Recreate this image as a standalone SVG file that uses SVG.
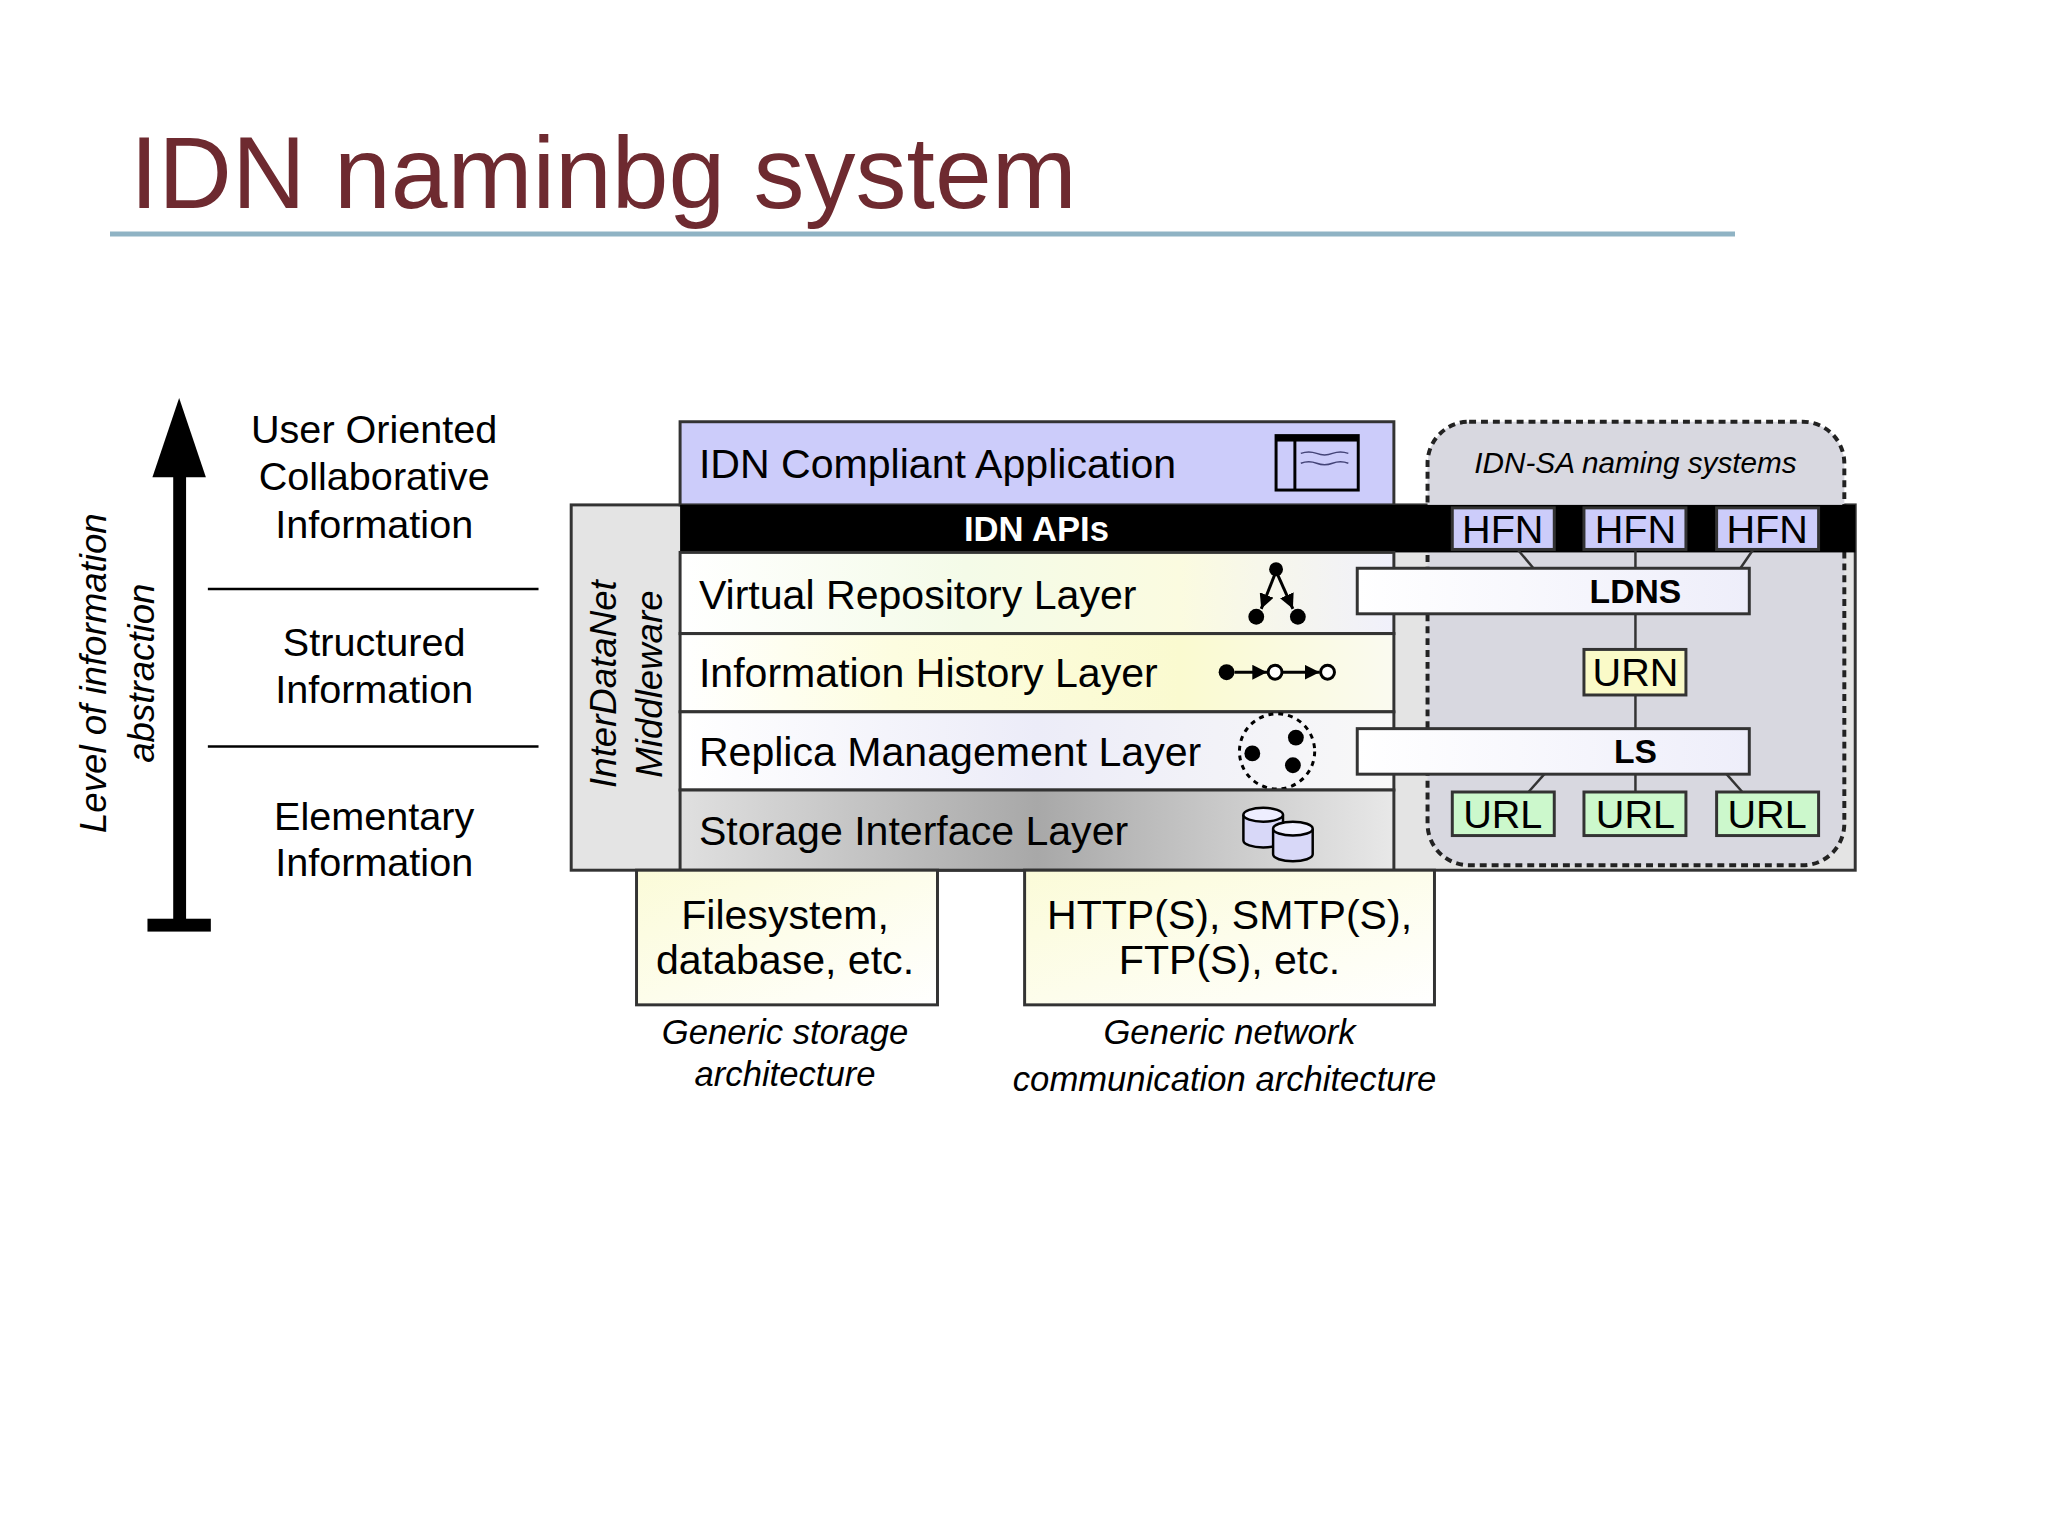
<svg xmlns="http://www.w3.org/2000/svg" width="2048" height="1536" viewBox="0 0 2048 1536">
<style>
.s{font-family:"Liberation Sans",Arial,sans-serif;fill:#000}
.l{font-size:40px}
.ly{font-size:41.5px}
.c{text-anchor:middle}
.i{font-style:italic}
.box{stroke:#333;stroke-width:3}
.ln{stroke:#333;stroke-width:2.5;fill:none}
</style>
<defs>
<linearGradient id="lay" x1="0" y1="0" x2="1" y2="0">
<stop offset="0" stop-color="#ffffff"/><stop offset="0.4" stop-color="#f4fbe8"/><stop offset="0.7" stop-color="#fbfbe0"/><stop offset="1" stop-color="#f0f0fb"/>
</linearGradient>
<linearGradient id="lay2" x1="0" y1="0" x2="1" y2="0">
<stop offset="0" stop-color="#ffffff"/><stop offset="0.3" stop-color="#fdfde0"/><stop offset="0.7" stop-color="#fafad0"/><stop offset="1" stop-color="#fafaf0"/>
</linearGradient>
<linearGradient id="lay3" x1="0" y1="0" x2="1" y2="0">
<stop offset="0" stop-color="#ffffff"/><stop offset="0.5" stop-color="#ececf8"/><stop offset="1" stop-color="#f8f8f8"/>
</linearGradient>
<linearGradient id="sto" x1="0" y1="0" x2="1" y2="0">
<stop offset="0" stop-color="#e0e0e0"/><stop offset="0.5" stop-color="#a8a8a8"/><stop offset="1" stop-color="#e8e8e8"/>
</linearGradient>
<linearGradient id="yel" x1="0" y1="0" x2="1" y2="1">
<stop offset="0" stop-color="#fbfbd8"/><stop offset="1" stop-color="#ffffff"/>
</linearGradient>
<linearGradient id="wb" x1="0" y1="0" x2="1" y2="0">
<stop offset="0" stop-color="#ffffff"/><stop offset="1" stop-color="#eeeefa"/>
</linearGradient>
<marker id="ah" viewBox="0 0 10 10" refX="10" refY="5" markerWidth="5" markerHeight="5" orient="auto"><path d="M0,0L10,5L0,10z" fill="#000"/></marker>
</defs>
<rect width="2048" height="1536" fill="#fff"/>
<text x="130" y="208" font-family="Liberation Sans,Arial,sans-serif" font-size="102" fill="#6e2a30">IDN naminbg system</text>
<line x1="110" y1="234" x2="1735" y2="234" stroke="#8fb3c4" stroke-width="5"/>

<g transform="translate(-4,0) scale(0.99)">
<g id="axis">
<rect x="179" y="478" width="13" height="456" fill="#000"/>
<polygon points="185,402 158,482 212,482" fill="#000"/>
<rect x="153" y="928" width="64" height="13" fill="#000"/>
<text class="s i c" font-size="37" transform="translate(111,680) rotate(-90)">Level of information</text>
<text class="s i c" font-size="37" transform="translate(160,680) rotate(-90)">abstraction</text>
</g>
<g id="levels">
<text class="s l c" x="382" y="447">User Oriented</text>
<text class="s l c" x="382" y="495">Collaborative</text>
<text class="s l c" x="382" y="543">Information</text>
<line x1="214" y1="595" x2="548" y2="595" stroke="#000" stroke-width="2.5"/>
<text class="s l c" x="382" y="663">Structured</text>
<text class="s l c" x="382" y="710">Information</text>
<line x1="214" y1="754" x2="548" y2="754" stroke="#000" stroke-width="2.5"/>
<text class="s l c" x="382" y="838">Elementary</text>
<text class="s l c" x="382" y="885">Information</text>
</g>

<g id="middleware">
<rect x="581" y="510" width="1297" height="369" fill="#e4e4e4" class="box"/>
<text class="s i c" font-size="37" transform="translate(626,691) rotate(-90)">InterDataNet</text>
<text class="s i c" font-size="37" transform="translate(673,691) rotate(-90)">Middleware</text>
</g>
<g id="namingbox">
<rect x="1446" y="426" width="421" height="448" rx="42" fill="#d8d8e0" stroke="#222" stroke-width="4" stroke-dasharray="7,5"/>
<text class="s i c" font-size="30" x="1656" y="478" fill="#222">IDN-SA naming systems</text>
</g>
<g id="app">
<rect x="691" y="426" width="721" height="84" fill="#ccccfa" class="box"/>
<text class="s ly" x="710" y="483">IDN Compliant Application</text>
<rect x="1293" y="440" width="83" height="55" fill="#ccccfa" stroke="#000" stroke-width="3"/>
<rect x="1293" y="440" width="83" height="6" fill="#000"/>
<line x1="1312" y1="440" x2="1312" y2="495" stroke="#000" stroke-width="3"/>
<path d="M1318,458 q8,-3 16,0 t16,0 t16,0 M1318,468 q8,-3 16,0 t16,0 t16,0" stroke="#447" stroke-width="1.5" fill="none"/>
</g>
<g id="apis">
<rect x="691" y="510" width="1187" height="48" fill="#000"/>
<text class="s c" x="1051" y="546" font-size="35" font-weight="bold" style="fill:#fff">IDN APIs</text>
</g>
<g id="vrl">
<rect x="691" y="558" width="721" height="82" fill="url(#lay)" class="box"/>
<text class="s ly" x="710" y="615">Virtual Repository Layer</text>
<line x1="1293" y1="577" x2="1278" y2="615" stroke="#000" stroke-width="3" marker-end="url(#ah)"/>
<line x1="1293" y1="577" x2="1310" y2="615" stroke="#000" stroke-width="3" marker-end="url(#ah)"/>
<circle cx="1293" cy="575" r="7" fill="#000"/><circle cx="1273" cy="623" r="8" fill="#000"/><circle cx="1315" cy="623" r="8" fill="#000"/>
</g>
<g id="ihl">
<rect x="691" y="640" width="721" height="79" fill="url(#lay2)" class="box"/>
<text class="s ly" x="710" y="694">Information History Layer</text>
<circle cx="1243" cy="679" r="8" fill="#000"/>
<line x1="1251" y1="679" x2="1284" y2="679" stroke="#000" stroke-width="3" marker-end="url(#ah)"/>
<circle cx="1292" cy="679" r="7" fill="#fff" stroke="#000" stroke-width="3"/>
<line x1="1299" y1="679" x2="1337" y2="679" stroke="#000" stroke-width="3" marker-end="url(#ah)"/>
<circle cx="1345" cy="679" r="7" fill="#fff" stroke="#000" stroke-width="3"/>
</g>
<g id="rml">
<rect x="691" y="719" width="721" height="79" fill="url(#lay3)" class="box"/>
<text class="s ly" x="710" y="774">Replica Management Layer</text>
<circle cx="1294" cy="759" r="38" fill="none" stroke="#000" stroke-width="3" stroke-dasharray="5,5"/>
<circle cx="1269" cy="761" r="8" fill="#000"/><circle cx="1313" cy="745" r="8" fill="#000"/><circle cx="1310" cy="773" r="8" fill="#000"/>
</g>
<g id="sil">
<rect x="691" y="798" width="721" height="81" fill="url(#sto)" class="box"/>
<text class="s ly" x="710" y="854">Storage Interface Layer</text>
<path d="M1260,823 v26 a20,7 0 0 0 40,0 v-26" fill="#d8d8f8" stroke="#000" stroke-width="2.5"/>
<ellipse cx="1280" cy="823" rx="20" ry="7" fill="#eeeeff" stroke="#000" stroke-width="2.5"/>
<path d="M1290,837 v26 a20,7 0 0 0 40,0 v-26" fill="#d8d8f8" stroke="#000" stroke-width="2.5"/>
<ellipse cx="1310" cy="837" rx="20" ry="7" fill="#eeeeff" stroke="#000" stroke-width="2.5"/>
</g>

<g id="connectors">
<line class="ln" x1="1537" y1="555" x2="1553" y2="574"/>
<line class="ln" x1="1656" y1="555" x2="1656" y2="574"/>
<line class="ln" x1="1775" y1="555" x2="1762" y2="574"/>
<line class="ln" x1="1656" y1="620" x2="1656" y2="656"/>
<line class="ln" x1="1656" y1="702" x2="1656" y2="736"/>
<line class="ln" x1="1564" y1="782" x2="1548" y2="800"/>
<line class="ln" x1="1656" y1="782" x2="1656" y2="800"/>
<line class="ln" x1="1748" y1="782" x2="1764" y2="800"/>
</g>
<g id="hfn">
<rect x="1471" y="513" width="103" height="42" fill="#ccccfa" class="box"/>
<rect x="1604" y="513" width="103" height="42" fill="#ccccfa" class="box"/>
<rect x="1738" y="513" width="103" height="42" fill="#ccccfa" class="box"/>
<text class="s l c" x="1522" y="548">HFN</text>
<text class="s l c" x="1656" y="548">HFN</text>
<text class="s l c" x="1789" y="548">HFN</text>
</g>
<g id="ldns">
<rect x="1375" y="574" width="396" height="46" fill="url(#wb)" class="box"/>
<text class="s c" x="1656" y="609" font-size="34" font-weight="bold">LDNS</text>
</g>
<g id="urn">
<rect x="1604" y="656" width="103" height="46" fill="#fafac8" class="box"/>
<text class="s l c" x="1656" y="693">URN</text>
</g>
<g id="ls">
<rect x="1375" y="736" width="396" height="46" fill="url(#wb)" class="box"/>
<text class="s c" x="1656" y="771" font-size="34" font-weight="bold">LS</text>
</g>
<g id="url">
<rect x="1471" y="800" width="103" height="44" fill="#ccf8cc" class="box"/>
<rect x="1604" y="800" width="103" height="44" fill="#ccf8cc" class="box"/>
<rect x="1738" y="800" width="103" height="44" fill="#ccf8cc" class="box"/>
<text class="s l c" x="1522" y="836">URL</text>
<text class="s l c" x="1656" y="836">URL</text>
<text class="s l c" x="1789" y="836">URL</text>
</g>
<g id="storage">
<rect x="647" y="879" width="304" height="136" fill="url(#yel)" class="box"/>
<text class="s ly c" x="797" y="938">Filesystem,</text>
<text class="s ly c" x="797" y="984">database, etc.</text>
<text class="s i c" font-size="35" x="797" y="1055">Generic storage</text>
<text class="s i c" font-size="35" x="797" y="1097">architecture</text>
</g>
<g id="network">
<rect x="1039" y="879" width="414" height="136" fill="url(#yel)" class="box"/>
<text class="s ly c" x="1246" y="938">HTTP(S), SMTP(S),</text>
<text class="s ly c" x="1246" y="984">FTP(S), etc.</text>
<text class="s i c" font-size="35" x="1246" y="1055">Generic network</text>
<text class="s i c" font-size="35" x="1241" y="1102">communication architecture</text>
</g>
</g>
</svg>
